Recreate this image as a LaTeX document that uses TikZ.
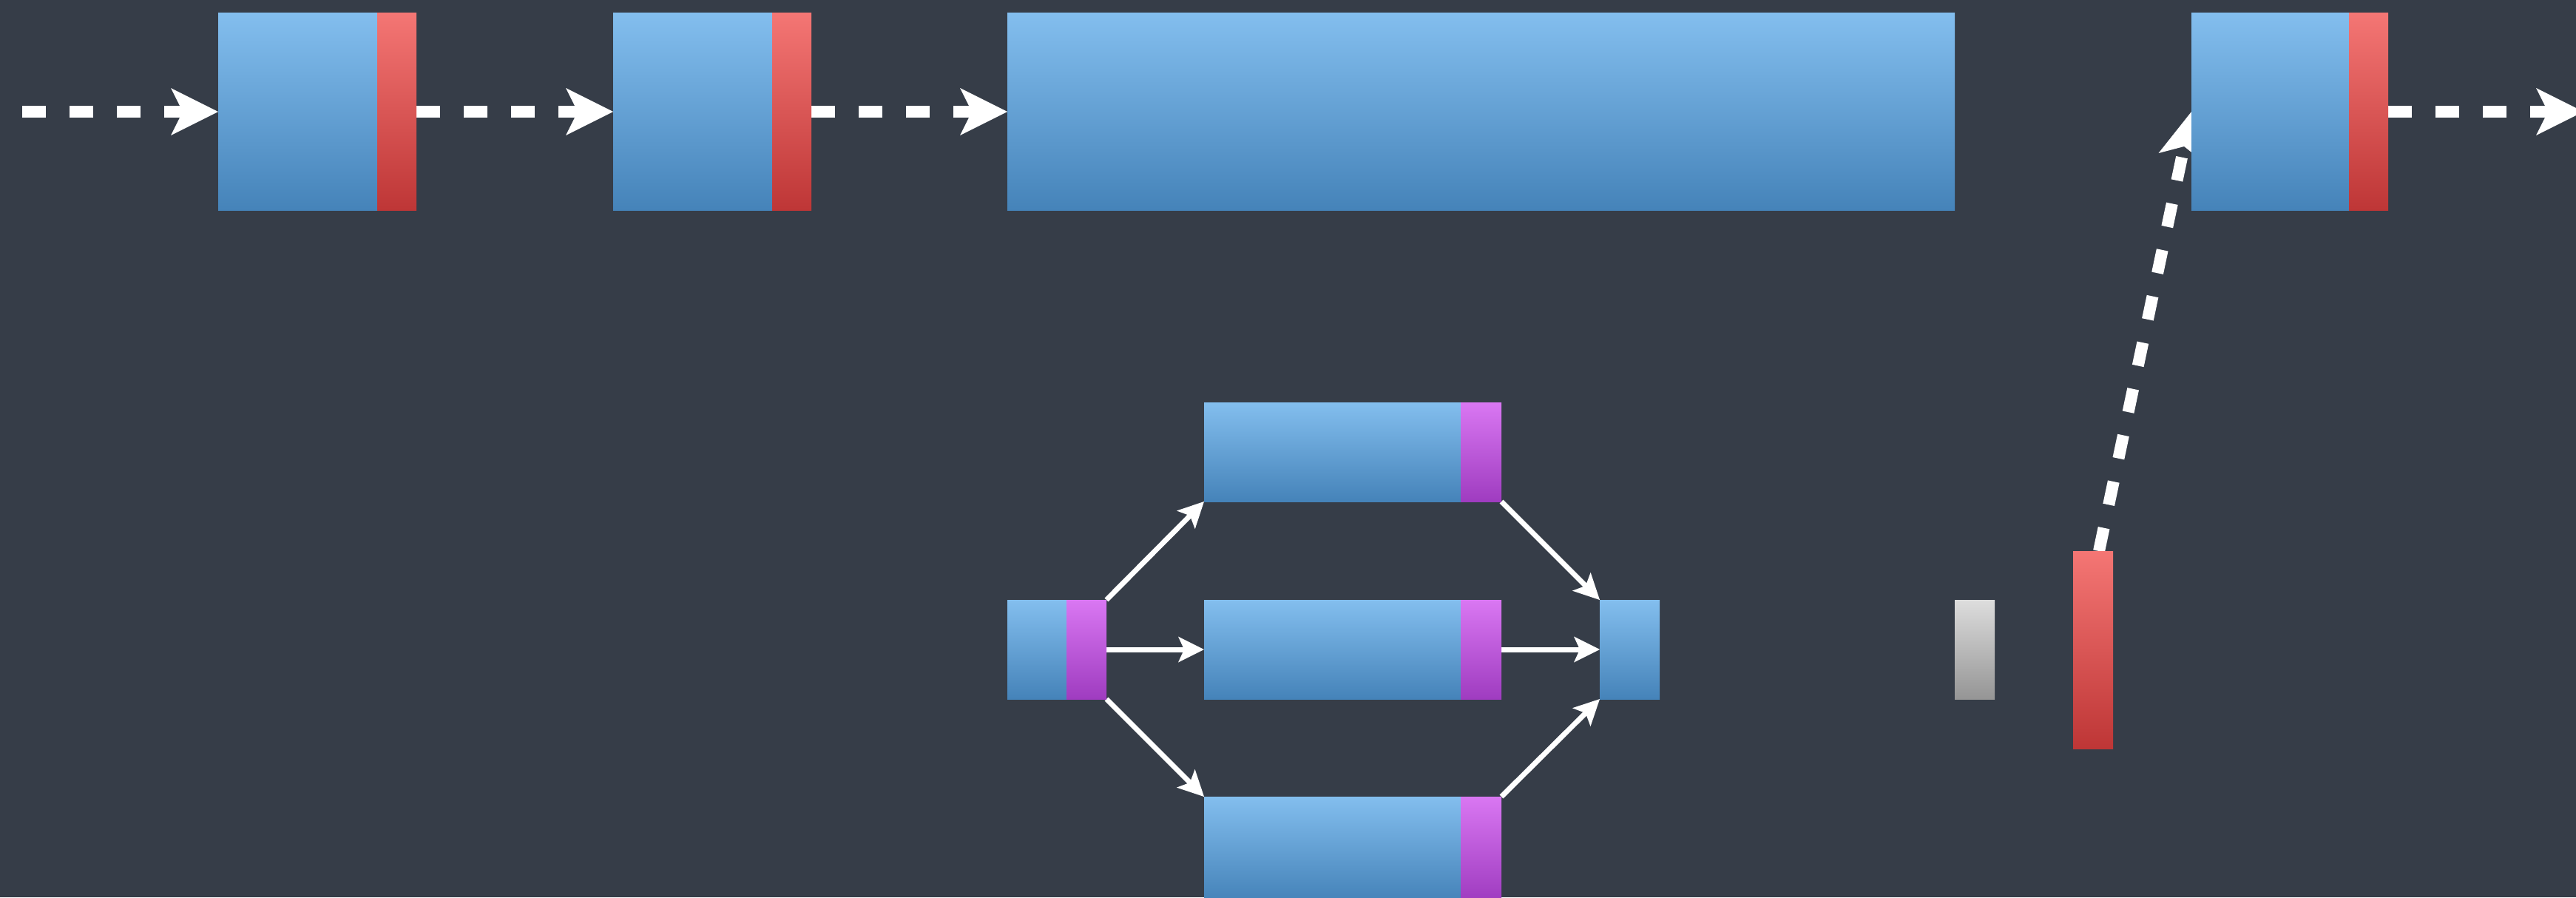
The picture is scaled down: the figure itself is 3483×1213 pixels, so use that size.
\documentclass[tikz,border=0pt]{standalone}
\usetikzlibrary{arrows.meta}
\definecolor{bgc}{HTML}{363D48}
\definecolor{bTop}{HTML}{83BEEE}
\definecolor{bBot}{HTML}{4583B9}
\definecolor{rTop}{HTML}{F47674}
\definecolor{rBot}{HTML}{BE3636}
\definecolor{pTop}{HTML}{D977F2}
\definecolor{pBot}{HTML}{9F3CC0}
\definecolor{gTop}{HTML}{DDDDDD}
\definecolor{gBot}{HTML}{959595}
\pgfdeclarelayer{back}
\pgfdeclarelayer{links}
\pgfsetlayers{back,links,main}
\tikzset{
  blk/.style={rectangle, inner sep=0pt, outer sep=0pt, draw=none},
  bluebox/.style={blk, top color=bTop, bottom color=bBot},
  redstrip/.style={blk, top color=rTop, bottom color=rBot},
  purplestrip/.style={blk, top color=pTop, bottom color=pBot},
  graybox/.style={blk, top color=gTop, bottom color=gBot},
  bigarrow/.style={draw=white, line width=16pt, dash pattern=on 32pt off 32pt,
    -{Stealth[length=64pt,width=64pt,inset=16pt,line width=0pt]}},
  smallarrow/.style={draw=white, line width=7pt,
    -{Stealth[length=35pt,width=35pt,inset=8pt,line width=0pt]}}
}
\begin{document}
\begin{tikzpicture}[x=1pt,y=-1pt]
\begin{pgfonlayer}{back}
\fill[bgc] (0,0) rectangle (3483,1213);
\end{pgfonlayer}
\useasboundingbox (0,0) rectangle (3483,1213);

% top row
\node[bluebox, minimum width=215pt, minimum height=267pt] (b1) at (402.5,151) {};
\node[redstrip, minimum width=53pt, minimum height=267pt, anchor=west] (r1) at (b1.east) {};
\node[bluebox, minimum width=215pt, minimum height=267pt] (b2) at (936.5,151) {};
\node[redstrip, minimum width=53pt, minimum height=267pt, anchor=west] (r2) at (b2.east) {};
\node[bluebox, minimum width=1281pt, minimum height=267pt] (b3) at (2002.5,151) {};
\node[bluebox, minimum width=213pt, minimum height=267pt] (b4) at (3069.5,151) {};
\node[redstrip, minimum width=53pt, minimum height=267pt, anchor=west] (r4) at (b4.east) {};

% bottom group
\node[bluebox, minimum width=80pt, minimum height=134pt] (s1) at (1402,878) {};
\node[purplestrip, minimum width=54pt, minimum height=134pt, anchor=west] (p1) at (s1.east) {};
\node[bluebox, minimum width=347pt, minimum height=134pt] (t) at (1801.5,611) {};
\node[purplestrip, minimum width=55pt, minimum height=134pt, anchor=west] (tp) at (t.east) {};
\node[bluebox, minimum width=347pt, minimum height=134pt] (m) at (1801.5,878) {};
\node[purplestrip, minimum width=55pt, minimum height=134pt, anchor=west] (mp) at (m.east) {};
\node[bluebox, minimum width=347pt, minimum height=140pt] (u) at (1801.5,1147) {};
\node[purplestrip, minimum width=55pt, minimum height=140pt, anchor=west] (up) at (u.east) {};
\node[bluebox, minimum width=81pt, minimum height=134pt] (e) at (2203.5,878) {};
\node[graybox, minimum width=54pt, minimum height=134pt] (g) at (2670,878) {};
\node[redstrip, minimum width=54pt, minimum height=267pt] (rb) at (2830,878.5) {};

\coordinate (startL) at (30,151);
\coordinate (endR) at (3493,151);
\coordinate (ds) at (2838,745);

\begin{pgfonlayer}{links}
\draw[bigarrow] (startL) -- (b1.west);
\draw[bigarrow] (r1.east) -- (b2.west);
\draw[bigarrow] (r2.east) -- (b3.west);
\draw[bigarrow] (r4.east) -- (endR);
\draw[bigarrow] (ds) -- (b4.west);
\draw[smallarrow] (p1.north east) -- (t.south west);
\draw[smallarrow] (p1.east) -- (m.west);
\draw[smallarrow] (p1.south east) -- (u.north west);
\draw[smallarrow] (tp.south east) -- (e.north west);
\draw[smallarrow] (mp.east) -- (e.west);
\draw[smallarrow] (up.north east) -- (e.south west);
\end{pgfonlayer}
\end{tikzpicture}
\end{document}
